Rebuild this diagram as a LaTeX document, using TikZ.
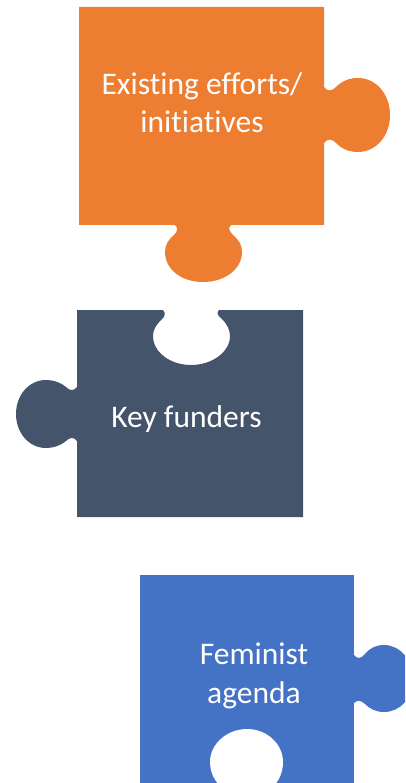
\documentclass[tikz,border=0pt]{standalone}
\usepackage{fontspec}
\setmainfont{Carlito}[Ligatures={NoCommon}]
\definecolor{ppOrange}{HTML}{ED7D31}
\definecolor{ppSlate}{HTML}{44546A}
\definecolor{ppBlue}{HTML}{4472C4}
\tikzset{
  piece/.style={fill=#1, draw=none},
  hole/.style={fill=white, draw=none},
  label/.style={text=white, font=\fontsize{31.5}{38.5}\selectfont, align=center, anchor=base, inner sep=0pt}
}
\begin{document}
\begin{tikzpicture}[x=1pt,y=-1pt]
\useasboundingbox (0,0) rectangle (405,783);
\clip (0,0) rectangle (405,783);

% orange piece, knob right and knob below
\fill[piece=ppOrange] (79,7) -- (324,7) -- (324,87)
  .. controls (327,91) and (331,92) .. (336,87)
  .. controls (342,81) and (349,78) .. (358,78)
  .. controls (376,78) and (390,94) .. (390,115)
  .. controls (390,136) and (376,152) .. (358,152)
  .. controls (349,152) and (342,149) .. (336,143)
  .. controls (331,138) and (327,139) .. (324,143)
  -- (324,225) -- (231,225)
  .. controls (228,228) and (229,231) .. (233,235)
  .. controls (239,240) and (242,245) .. (242,252)
  .. controls (242,269) and (225,282) .. (203,282)
  .. controls (181,282) and (165,269) .. (165,252)
  .. controls (165,245) and (168,240) .. (174,235)
  .. controls (178,231) and (178,228) .. (175,225)
  -- (79,225) -- cycle;
\node[label] (efforts) at (202,133) {Existing efforts/\\initiatives};

% slate piece, hole on top and knob left
\fill[piece=ppSlate] (77,310) -- (163,310)
  .. controls (166,313) and (165,317) .. (161,320)
  .. controls (156,325) and (153,330) .. (153,336)
  .. controls (153,352) and (170,365) .. (191,365)
  .. controls (212,365) and (230,352) .. (230,336)
  .. controls (230,330) and (227,324) .. (222,319)
  .. controls (218,316) and (216,313) .. (219,310)
  -- (303,310) -- (303,517) -- (77,517) -- (77,441)
  .. controls (74,437) and (70,437) .. (66,441)
  .. controls (60,446) and (53,448) .. (46,448)
  .. controls (29,448) and (16,433) .. (16,414)
  .. controls (16,395) and (29,380) .. (46,380)
  .. controls (53,380) and (60,382) .. (66,387)
  .. controls (70,391) and (74,391) .. (77,387)
  -- cycle;
\node[label] (funders) at (186.5,427) {Key funders};

% blue piece, knob right and hole below
\fill[piece=ppBlue] (140,575) rectangle (354,783);
\fill[piece=ppBlue] (354,655)
  .. controls (357,659) and (361,659) .. (365,654)
  .. controls (370,648) and (376,645) .. (384,645)
  .. controls (400,645) and (413,660) .. (413,679)
  .. controls (413,698) and (400,712) .. (384,712)
  .. controls (376,712) and (370,709) .. (365,704)
  .. controls (361,700) and (357,700) .. (354,703) -- cycle;
\fill[hole] (247,729)
  .. controls (267,729) and (283,744) .. (283,762)
  .. controls (283,776) and (276,786) .. (266,792)
  -- (228,792)
  .. controls (218,786) and (210,776) .. (210,762)
  .. controls (210,744) and (227,729) .. (247,729) -- cycle;
\node[label] (agenda) at (254,703) {Feminist\\agenda};
\end{tikzpicture}
\end{document}
